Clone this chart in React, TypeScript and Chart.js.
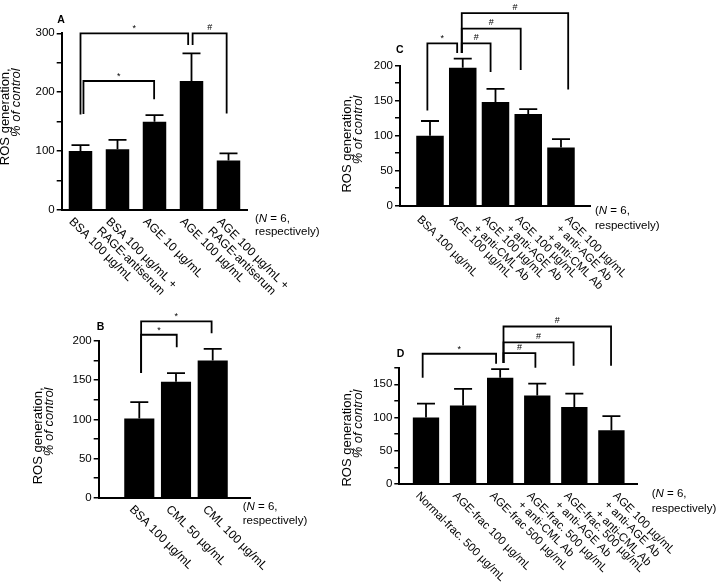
import React, { useEffect, useRef } from "react";
import { Chart, registerables } from "chart.js";

Chart.register(...registerables);

const FONT = "'Liberation Sans', Arial, Helvetica, sans-serif";

// ---------- Panel A ----------
const catsA: string[][] = [
  ["BSA 100 µg/mL"],
  ["BSA 100 µg/mL +", "RAGE-antiserum"],
  ["AGE 10 µg/mL"],
  ["AGE 100 µg/mL"],
  ["AGE 100 µg/mL +", "RAGE-antiserum"],
];
const valsA = [100, 103, 150, 219, 84];
const errsA = [10, 16, 11, 47, 12];
const majorTicksA = [0, 100, 200, 300];
const bracketsA = [
  { x0: 0, x1: 2.91, top: 300, y0: 162, y1: 280, label: "*" },
  { x0: 3.03, x1: 3.95, top: 300, y0: 280, y1: 164, label: "#" },
  { x0: 0.08, x1: 1.99, top: 219, y0: 163, y1: 188, label: "*" },
];

// ---------- Panel B ----------
const catsB: string[][] = [["BSA 100 µg/mL"], ["CML 50 µg/mL"], ["CML 100 µg/mL"]];
const valsB = [101, 148, 175];
const errsB = [21, 11, 15];
const majorTicksB = [0, 50, 100, 150, 200];
const bracketsB = [
  { x0: 0.05, x1: 1.97, top: 225, y0: 159, y1: 210, label: "*" },
  { x0: 0.05, x1: 1.02, top: 208, y0: 159, y1: 192, label: "*" },
];

// ---------- Panel C ----------
const catsC: string[][] = [
  ["BSA 100 µg/mL"],
  ["AGE 100 µg/mL"],
  ["AGE 100 µg/mL", "+ anti-CML Ab"],
  ["AGE 100 µg/mL", "+ anti-AGE Ab"],
  ["AGE 100 µg/mL", "+ anti-AGE Ab", "+ anti-CML Ab"],
];
const valsC = [100, 197, 148, 131, 83];
const errsC = [21, 13, 19, 7, 12];
const majorTicksC = [0, 50, 100, 150, 200];
const bracketsC = [
  { x0: -0.08, x1: 0.83, top: 232, y0: 136, y1: 218, label: "*" },
  { x0: 0.97, x1: 1.85, top: 232, y0: 218, y1: 191, label: "#" },
  { x0: 0.97, x1: 2.77, top: 253, y0: 218, y1: 194, label: "#" },
  { x0: 0.97, x1: 4.22, top: 275, y0: 218, y1: 166, label: "#" },
];

// ---------- Panel D ----------
const catsD: string[][] = [
  ["Normal-frac. 500 µg/mL"],
  ["AGE-frac 100 µg/mL"],
  ["AGE-frac 500 µg/mL"],
  ["AGE-frac. 500 µg/mL", "+ anti-CML Ab"],
  ["AGE-frac. 500 µg/mL", "+ anti-AGE Ab"],
  ["AGE 100 µg/mL", "+ anti-AGE Ab", "+ anti-CML Ab"],
];
const valsD = [100, 118, 160, 133, 116, 81];
const errsD = [21, 25, 13, 18, 20, 21];
const majorTicksD = [0, 50, 100, 150];
const bracketsD = [
  { x0: -0.09, x1: 1.89, top: 196, y0: 160, y1: 181, label: "*" },
  { x0: 2.09, x1: 2.95, top: 197, y0: 182, y1: 175, label: "#" },
  { x0: 2.09, x1: 3.98, top: 213, y0: 182, y1: 178, label: "#" },
  { x0: 2.09, x1: 4.99, top: 237, y0: 182, y1: 178, label: "#" },
];

const titleLine1 = "ROS generation,";
const titleLine2 = "% of control";
const noteLine2 = "respectively)";

type Bracket = { x0: number; x1: number; top: number; y0: number; y1: number; label: string };
type Panel = {
  letter: string;
  cats: string[][];
  vals: number[];
  errs: number[];
  majors: number[];
  brackets: Bracket[];
  yMax: number;
  yStep: number;
  box: { x: number; y: number; w: number; h: number };
  area: { l: number; t: number; r: number; b: number };
  xMin: number;
  xMax: number;
  barPct: number;
  labelDx: number;
  labelDy: number;
  labelSize: number;
  multiShift: number;
  noteDx: number;
  noteDy: number;
  noteLh: number;
  t1: number;
  t2: number;
  tTop: number;
  letterDx: number;
  letterDy: number;
};

const panels: Panel[] = [
  {
    letter: "A", cats: catsA, vals: valsA, errs: errsA, majors: majorTicksA, brackets: bracketsA,
    yMax: 300, yStep: 50,
    box: { x: 0, y: 0, w: 330, h: 300 }, area: { l: 61.7, t: 33.3, r: 247, b: 210 },
    xMin: -0.508, xMax: 4.5, barPct: 0.635,
    labelDx: -5.3, labelDy: 5.6, labelSize: 12, multiShift: 0,
    noteDx: 8, noteDy: 3.5, noteLh: 12.5,
    t1: -56.4, t2: -45, tTop: 35,
    letterDx: -4.4, letterDy: -18,
  },
  {
    letter: "B", cats: catsB, vals: valsB, errs: errsB, majors: majorTicksB, brackets: bracketsB,
    yMax: 200, yStep: 25,
    box: { x: 0, y: 300, w: 330, h: 284 }, area: { l: 98.7, t: 341, r: 250, b: 497.7 },
    xMin: -1.106, xMax: 3.016, barPct: 0.82,
    labelDx: -3.8, labelDy: 5.6, labelSize: 12, multiShift: 0,
    noteDx: -7.3, noteDy: 3.8, noteLh: 13.7,
    t1: -60, t2: -49.2, tTop: 46.5,
    letterDx: -2, letterDy: -19.5,
  },
  {
    letter: "C", cats: catsC, vals: valsC, errs: errsC, majors: majorTicksC, brackets: bracketsC,
    yMax: 200, yStep: 25,
    box: { x: 330, y: 0, w: 390, h: 300 }, area: { l: 400, t: 65.7, r: 590, b: 205.7 },
    xMin: -0.916, xMax: 4.886, barPct: 0.84,
    labelDx: -7.3, labelDy: 8, labelSize: 11.5, multiShift: 17,
    noteDx: 5, noteDy: -0.5, noteLh: 15,
    t1: -52.5, t2: -41.5, tTop: 30,
    letterDx: -4, letterDy: -20.5,
  },
  {
    letter: "D", cats: catsD, vals: valsD, errs: errsD, majors: majorTicksD, brackets: bracketsD,
    yMax: 175, yStep: 25,
    box: { x: 330, y: 300, w: 390, h: 284 }, area: { l: 399.3, t: 367.7, r: 637, b: 484 },
    xMin: -0.72, xMax: 5.69, barPct: 0.71,
    labelDx: -4.5, labelDy: 6, labelSize: 11.5, multiShift: 12,
    noteDx: 14.7, noteDy: 4.5, noteLh: 15,
    t1: -51.8, t2: -41.3, tTop: 22,
    letterDx: -2.6, letterDy: -19.2,
  },
];

const CAP = 18;
const LINE_W = 1.8;

function makePlugin(p: Panel) {
  return {
    id: "panelDeco" + p.letter,
    afterDatasetsDraw(chart: any) {
      const ctx: CanvasRenderingContext2D = chart.ctx;
      const xs = chart.scales.x;
      const ys = chart.scales.y;
      const ca = chart.chartArea;
      const meta = chart.getDatasetMeta(0);
      ctx.save();
      ctx.strokeStyle = "#000";
      ctx.fillStyle = "#000";
      ctx.lineWidth = LINE_W;
      ctx.lineCap = "butt";
      ctx.lineJoin = "miter";

      // error bars
      meta.data.forEach((el: any, i: number) => {
        const x = el.x;
        const yTop = ys.getPixelForValue(p.vals[i]);
        const yErr = ys.getPixelForValue(p.vals[i] + p.errs[i]);
        ctx.beginPath();
        ctx.moveTo(x, yTop);
        ctx.lineTo(x, yErr);
        ctx.moveTo(x - CAP / 2, yErr);
        ctx.lineTo(x + CAP / 2, yErr);
        ctx.stroke();
      });

      // significance brackets
      p.brackets.forEach((b) => {
        const px0 = xs.getPixelForValue(b.x0);
        const px1 = xs.getPixelForValue(b.x1);
        const pt = ys.getPixelForValue(b.top);
        ctx.beginPath();
        ctx.moveTo(px0, ys.getPixelForValue(b.y0));
        ctx.lineTo(px0, pt);
        ctx.lineTo(px1, pt);
        ctx.lineTo(px1, ys.getPixelForValue(b.y1));
        ctx.stroke();
        ctx.font = `9px ${FONT}`;
        ctx.textAlign = "center";
        ctx.textBaseline = "alphabetic";
        ctx.fillText(b.label, (px0 + px1) / 2, pt - (b.label === "*" ? 2 : 3.5));
      });

      // rotated category labels
      ctx.font = `${p.labelSize}px ${FONT}`;
      ctx.textAlign = "left";
      ctx.textBaseline = "top";
      const lh = p.labelSize * 1.1;
      p.cats.forEach((lines, i) => {
        const ax = xs.getPixelForValue(i) + p.labelDx + (lines.length > 2 ? p.multiShift : 0);
        const ay = ca.bottom + p.labelDy;
        ctx.save();
        ctx.translate(ax, ay);
        ctx.rotate(Math.PI / 4);
        lines.forEach((ln, j) => ctx.fillText(ln, 0, j * lh));
        ctx.restore();
      });

      // N = 6 note
      const nx = ca.right + p.noteDx;
      const ny = ca.bottom + p.noteDy;
      const segs = [
        { t: "(", it: false },
        { t: "N", it: true },
        { t: " = 6,", it: false },
      ];
      let cx = nx;
      segs.forEach((s) => {
        ctx.font = `${s.it ? "italic " : ""}11.5px ${FONT}`;
        ctx.fillText(s.t, cx, ny);
        cx += ctx.measureText(s.t).width;
      });
      ctx.font = `11.5px ${FONT}`;
      ctx.fillText(noteLine2, nx, ny + p.noteLh);

      // y axis title (two lines)
      ctx.textAlign = "right";
      ctx.textBaseline = "middle";
      ctx.save();
      ctx.translate(ca.left + p.t1, ca.top + p.tTop);
      ctx.rotate(-Math.PI / 2);
      ctx.font = `13px ${FONT}`;
      ctx.fillText(titleLine1, 0, 0);
      ctx.restore();
      ctx.save();
      ctx.translate(ca.left + p.t2, ca.top + p.tTop);
      ctx.rotate(-Math.PI / 2);
      ctx.font = `italic 13px ${FONT}`;
      ctx.fillText(titleLine2, 0, 0);
      ctx.restore();

      // panel letter
      ctx.textAlign = "left";
      ctx.textBaseline = "top";
      ctx.font = `bold 10.5px ${FONT}`;
      ctx.fillText(p.letter, ca.left + p.letterDx, ca.top + p.letterDy);

      ctx.restore();
    },
  };
}

function PanelChart({ p }: { p: Panel }) {
  const ref = useRef<HTMLCanvasElement | null>(null);
  useEffect(() => {
    const canvas = ref.current;
    if (!canvas) return;
    const yAxisW = p.area.l - p.box.x;
    const xAxisH = p.box.y + p.box.h - p.area.b;
    const chart = new Chart(canvas, {
      type: "bar",
      data: {
        datasets: [
          {
            data: p.vals.map((v, i) => ({ x: i, y: v })),
            backgroundColor: "#000",
            borderWidth: 0,
            barPercentage: p.barPct,
            categoryPercentage: 1,
          } as any,
        ],
      },
      options: {
        responsive: false,
        maintainAspectRatio: false,
        animation: false,
        events: [],
        layout: {
          padding: {
            left: 0,
            top: p.area.t - p.box.y,
            right: p.box.x + p.box.w - p.area.r,
            bottom: 0,
          },
        },
        plugins: {
          legend: { display: false },
          tooltip: { enabled: false },
          title: { display: false },
        },
        scales: {
          x: {
            type: "linear",
            min: p.xMin,
            max: p.xMax,
            offset: false,
            ticks: { display: false },
            grid: { display: false },
            border: { display: true, color: "#000", width: 2 },
            afterBuildTicks: (s: any) => {
              s.ticks = p.cats.map((_, i) => ({ value: i }));
            },
            afterFit: (s: any) => {
              s.height = xAxisH;
            },
          },
          y: {
            type: "linear",
            min: 0,
            max: p.yMax,
            ticks: {
              stepSize: p.yStep,
              autoSkip: false,
              color: "#000",
              padding: 2,
              font: { family: FONT, size: 11.5 },
              callback: (v: any) => (p.majors.includes(Number(v)) ? String(v) : ""),
            },
            grid: {
              display: true,
              drawOnChartArea: false,
              drawTicks: true,
              tickLength: 5,
              color: "#000",
              lineWidth: 1.5,
            },
            border: { display: true, color: "#000", width: 2 },
            afterFit: (s: any) => {
              s.width = yAxisW;
            },
          },
        },
      } as any,
      plugins: [makePlugin(p)],
    });
    return () => chart.destroy();
  }, [p]);
  return (
    <div
      style={{
        position: "absolute",
        left: p.box.x,
        top: p.box.y,
        width: p.box.w,
        height: p.box.h,
      }}
    >
      <canvas ref={ref} width={p.box.w} height={p.box.h} style={{ width: p.box.w, height: p.box.h }} />
    </div>
  );
}

export default function App() {
  return (
    <div
      style={{
        position: "absolute",
        left: 0,
        top: 0,
        width: 720,
        height: 584,
        background: "#fff",
        overflow: "hidden",
      }}
    >
      {panels.map((p) => (
        <PanelChart key={p.letter} p={p} />
      ))}
    </div>
  );
}
